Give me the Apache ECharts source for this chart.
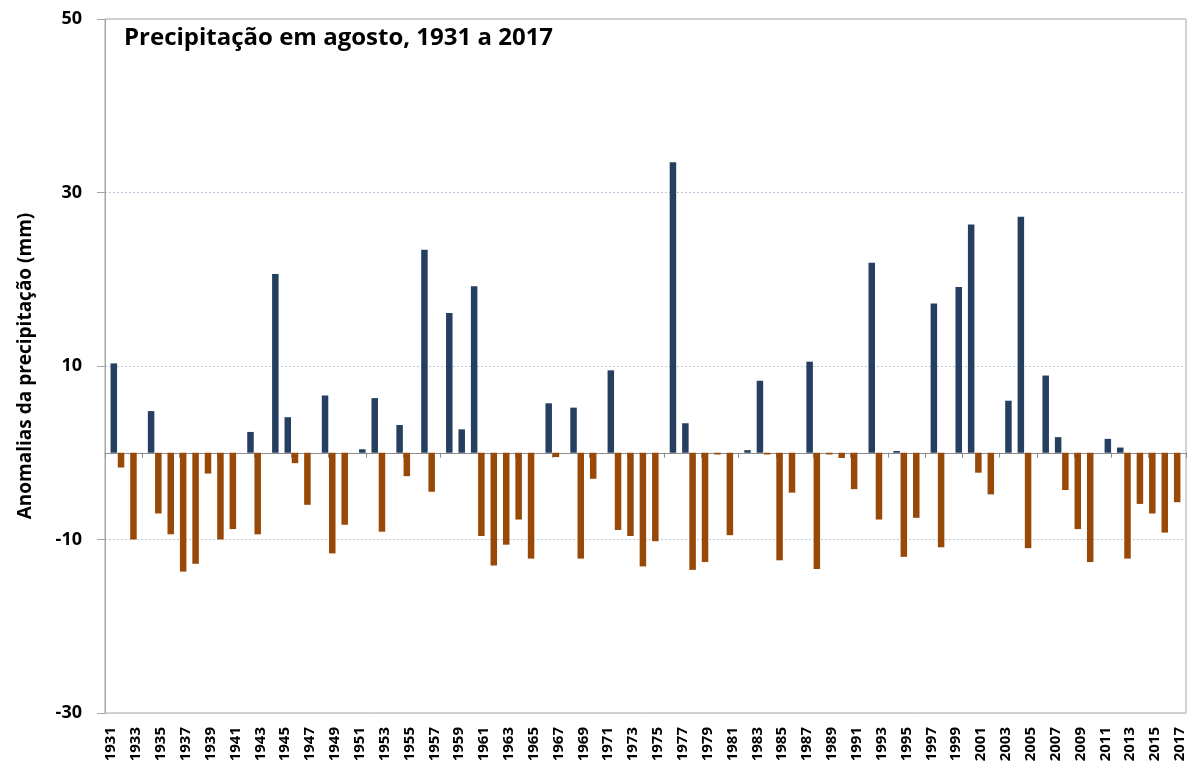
<!DOCTYPE html>
<html>
<head>
<meta charset="utf-8">
<title>Precipitação em agosto</title>
<script src="https://cdn.jsdelivr.net/npm/echarts@6/dist/echarts.min.js"></script>
<style>
    html, body { margin: 0; padding: 0; background: #ffffff; }
    #anomaliaBar { width: 1197px; height: 773px; }
</style>
</head>
<body>
<div id="anomaliaBar"></div>
<script>
// anos 1931 a 2017
var anos = [];
for (var a = 1931; a <= 2017; a++) {
    anos.push(String(a));
}

// anomalias da precipitação em agosto (mm)
var anomalias = [
    10.3, -1.7, -10.0, 4.8, -7.0, -9.4, -13.7, -12.8, -2.4, -10.0,      // 1931-1940
    -8.8, 2.4, -9.4, 20.6, 4.1, -1.2, -6.0, 6.6, -11.6, -8.3,           // 1941-1950
    0.4, 6.3, -9.1, 3.2, -2.7, 23.4, -4.5, 16.1, 2.7, 19.2,             // 1951-1960
    -9.6, -13.0, -10.6, -7.7, -12.2, 5.7, -0.5, 5.2, -12.2, -3.0,       // 1961-1970
    9.5, -8.9, -9.6, -13.1, -10.2, 33.5, 3.4, -13.5, -12.6, -0.2,       // 1971-1980
    -9.5, 0.3, 8.3, -0.2, -12.4, -4.6, 10.5, -13.4, -0.2, -0.6,         // 1981-1990
    -4.2, 21.9, -7.7, 0.2, -12.0, -7.5, 17.2, -10.9, 19.1, 26.3,        // 1991-2000
    -2.3, -4.8, 6.0, 27.2, -11.0, 8.9, 1.8, -4.3, -8.8, -12.6,          // 2001-2010
    1.6, 0.6, -12.2, -5.9, -7.0, -9.2, -5.7                             // 2011-2017
];

var yTicks = [-30, -10, 10, 30, 50];

var positivas = anomalias.map(function (v) { return v > 0 ? v : '-'; });
var negativas = anomalias.map(function (v) { return v < 0 ? v : '-'; });

var fonte = 'Open Sans';
var anomaliaBar = echarts.init(document.getElementById('anomaliaBar'));
var anomaliaOption = {
    animation: false,
    title: {
        text: 'Precipitação em agosto, 1931 a 2017',
        left: 119,
        top: 21,
        textStyle: {
            color: '#000000',
            fontFamily: fonte,
            fontWeight: 'bold',
            fontSize: 24
        }
    },
    grid: {
        left: 105,
        right: 11,
        top: 19,
        bottom: 60,
        show: true,
        backgroundColor: '#ffffff',
        borderColor: '#a6a6a6',
        borderWidth: 1
    },
    xAxis: [
        {
            // eixo com os anos, em baixo
            type: 'category',
            data: anos,
            position: 'bottom',
            axisLine: { show: false, onZero: false },
            axisTick: { show: false },
            axisLabel: {
                interval: 1,
                rotate: 90,
                margin: 14,
                color: '#000000',
                fontFamily: fonte,
                fontWeight: 'bold',
                fontSize: 15
            },
            splitLine: { show: false }
        },
        {
            // linha do zero com marcas
            type: 'category',
            data: anos,
            position: 'top',
            axisLine: {
                onZero: true,
                lineStyle: { color: '#8c8c8c', width: 1 }
            },
            axisTick: {
                show: true,
                inside: true,
                interval: 2,
                length: 5,
                lineStyle: { color: '#8c8c8c' }
            },
            axisLabel: { show: false },
            splitLine: { show: false }
        }
    ],
    yAxis: {
        type: 'value',
        min: yTicks[0],
        max: yTicks[yTicks.length - 1],
        interval: yTicks[1] - yTicks[0],
        name: 'Anomalias da precipitação (mm)',
        nameLocation: 'middle',
        nameRotate: 90,
        nameGap: 70,
        nameTextStyle: {
            color: '#000000',
            fontFamily: fonte,
            fontWeight: 'bold',
            fontSize: 19
        },
        axisLine: {
            show: true,
            lineStyle: { color: '#a6a6a6' }
        },
        axisTick: {
            show: true,
            length: 8,
            lineStyle: { color: '#a6a6a6' }
        },
        axisLabel: {
            margin: 23,
            color: '#000000',
            fontFamily: fonte,
            fontWeight: 'bold',
            fontSize: 18
        },
        splitLine: {
            lineStyle: {
                color: '#bcc8dc',
                type: [2, 2],
                width: 1
            }
        }
    },
    series: [
        {
            name: 'negativas',
            type: 'bar',
            data: negativas,
            barWidth: 6.5,
            barGap: '-20%',
            itemStyle: { color: '#984807' }
        },
        {
            name: 'positivas',
            type: 'bar',
            data: positivas,
            barWidth: 6.5,
            barGap: '-20%',
            itemStyle: { color: '#243f60' }
        }
    ]
};
anomaliaBar.setOption(anomaliaOption);
</script>
</body>
</html>
